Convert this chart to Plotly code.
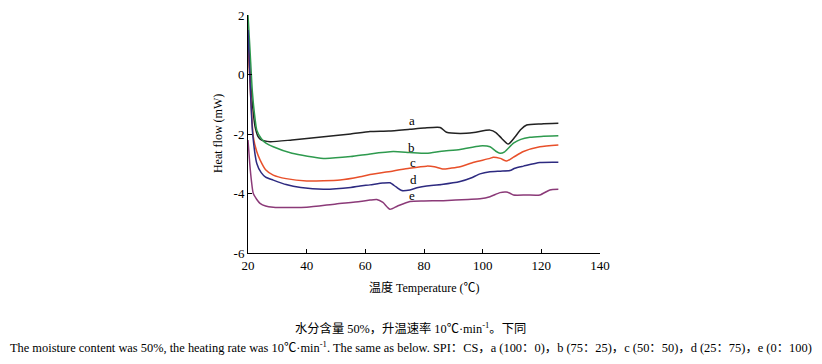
import plotly.graph_objects as go

temp_a = [20, 20.7, 21.5, 22.4, 23.5, 24.5, 27.5, 35, 45, 55, 61.6, 68, 75.2, 80, 85.5, 87.7, 92.3, 97, 102.5, 104.5, 106.5, 108.7, 111, 113, 115, 120, 125.8]
flow_a = [1.5, 0.0, -1.0, -1.75, -2.1, -2.2, -2.26, -2.2, -2.1, -2.0, -1.92, -1.9, -1.84, -1.8, -1.78, -1.94, -1.98, -1.95, -1.87, -1.95, -2.15, -2.34, -2.1, -1.85, -1.70, -1.66, -1.64]

temp_b = [20, 20.7, 21.5, 22.3, 23, 24.5, 26, 28.6, 35, 45.7, 55, 61.6, 69.5, 75, 80.9, 86, 92.3, 99.1, 102.5, 104.5, 105.9, 107.5, 110.5, 113, 116.1, 120, 125.8]
flow_b = [2.0, 0.8, -0.6, -1.4, -1.87, -2.15, -2.3, -2.43, -2.65, -2.82, -2.76, -2.67, -2.59, -2.62, -2.65, -2.58, -2.52, -2.40, -2.43, -2.58, -2.65, -2.6, -2.31, -2.18, -2.11, -2.08, -2.06]

temp_c = [20, 20.8, 21.8, 23, 24.1, 26, 28.6, 33, 40, 51.4, 58.2, 61.6, 69.5, 75, 80.9, 83.5, 86.6, 89, 92.3, 97, 102.5, 103.6, 106, 108.2, 110.5, 113.9, 119.5, 125.8]
flow_c = [1.0, -0.5, -2.09, -2.6, -2.87, -3.2, -3.38, -3.5, -3.58, -3.55, -3.44, -3.36, -3.24, -3.15, -3.08, -3.1, -3.18, -3.15, -3.10, -2.95, -2.82, -2.78, -2.82, -2.91, -2.78, -2.59, -2.43, -2.37]

temp_d = [20, 20.8, 21.6, 23, 24.5, 26, 28.6, 33, 38, 45.7, 55, 58.2, 61.6, 66, 68.4, 70.5, 72.4, 75.2, 78, 80.9, 86, 92.3, 96, 99.1, 102.5, 106, 109.3, 111, 113.9, 119.5, 125.8]
flow_d = [1.5, -0.5, -2.0, -2.99, -3.3, -3.45, -3.55, -3.7, -3.8, -3.86, -3.8, -3.75, -3.71, -3.65, -3.64, -3.78, -3.90, -3.88, -3.8, -3.75, -3.7, -3.60, -3.48, -3.34, -3.27, -3.25, -3.23, -3.15, -3.08, -2.96, -2.95]

temp_e = [20, 20.6, 21.2, 21.8, 23, 24.1, 26, 28.6, 35, 40, 50, 58.2, 61.6, 63.9, 66, 68.4, 71, 75.2, 80, 86.6, 95, 99.1, 102.5, 105.9, 108, 109.3, 110.5, 115, 119.5, 122.9, 125.8]
flow_e = [-2.2, -3.0, -3.6, -4.0, -4.2, -4.33, -4.42, -4.46, -4.47, -4.46, -4.35, -4.27, -4.22, -4.20, -4.3, -4.53, -4.42, -4.27, -4.25, -4.24, -4.2, -4.18, -4.11, -3.97, -3.95, -3.99, -4.05, -4.05, -4.05, -3.88, -3.86]

x_ticks = [20, 40, 60, 80, 100, 120, 140]
y_ticks = [-6, -4, -2, 0, 2]
y_tick_labels = ["-6", "-4", "-2", "0", "2"]

series = [
    ("a", temp_a, flow_a, "#222222", 75.9, -1.56),
    ("b", temp_b, flow_b, "#2e9a4e", 75.9, -2.47),
    ("c", temp_c, flow_c, "#e8502a", 76.3, -2.95),
    ("d", temp_d, flow_d, "#2d2a80", 76.3, -3.52),
    ("e", temp_e, flow_e, "#8b3a78", 75.9, -4.07),
]

SERIF = '"Liberation Serif", "Times New Roman", "Noto Sans CJK SC", serif'
BLACK = "#000000"

fig = go.Figure()
for name, xs, ys, col, lx, ly in series:
    fig.add_trace(go.Scatter(x=xs, y=ys, mode="lines", name=name,
                             line=dict(color=col, width=1.5, shape="spline", smoothing=0.6),
                             showlegend=False))
    fig.add_annotation(x=lx, y=ly, text=name, showarrow=False,
                       font=dict(family=SERIF, size=13, color=BLACK))

# axis titles
fig.add_annotation(xref="paper", yref="paper", x=0.5, y=-0.143, xanchor="center", yanchor="middle",
                   showarrow=False, text="温度 Temperature (℃)",
                   font=dict(family=SERIF, size=12, color=BLACK))
fig.add_annotation(xref="paper", yref="paper", x=-0.085, y=0.5, xanchor="center", yanchor="middle",
                   showarrow=False, textangle=-90, text="Heat flow (mW)",
                   font=dict(family=SERIF, size=12, color=BLACK))

# captions
fig.add_annotation(xref="paper", yref="paper", x=0.463, y=-0.315, xanchor="center", yanchor="middle",
                   showarrow=False, text="水分含量 50%，升温速率 10℃·min<sup>-1</sup>。下同",
                   font=dict(family=SERIF, size=12.3, color=BLACK))
fig.add_annotation(xref="paper", yref="paper", x=0.463, y=-0.395, xanchor="center", yanchor="middle",
                   showarrow=False,
                   text="The moisture content was 50%, the heating rate was 10℃·min<sup>-1</sup>. The same as below. SPI：CS，a (100：0)，b (75：25)，c (50：50)，d (25：75)，e (0：100)",
                   font=dict(family=SERIF, size=12.4, color=BLACK))

fig.update_xaxes(range=[20, 140], tickvals=x_ticks, automargin=False,
                 showline=True, linecolor=BLACK, linewidth=1, ticks="inside", ticklen=4,
                 tickcolor=BLACK, showgrid=False, zeroline=False,
                 tickfont=dict(family=SERIF, size=13, color=BLACK))
fig.update_yaxes(range=[-6, 2], tickvals=y_ticks, ticktext=y_tick_labels, automargin=False,
                 showline=True, linecolor=BLACK, linewidth=1, ticks="inside", ticklen=4,
                 tickcolor=BLACK, showgrid=False, zeroline=False,
                 tickfont=dict(family=SERIF, size=13, color=BLACK))

fig.update_layout(width=822, height=364, margin=dict(l=248, r=222, t=15, b=111, autoexpand=False),
                  plot_bgcolor="white", paper_bgcolor="white")
fig.write_html("out.html", config={"displayModeBar": False},
               post_script="document.body.style.margin='0';document.body.style.overflow='hidden';")
